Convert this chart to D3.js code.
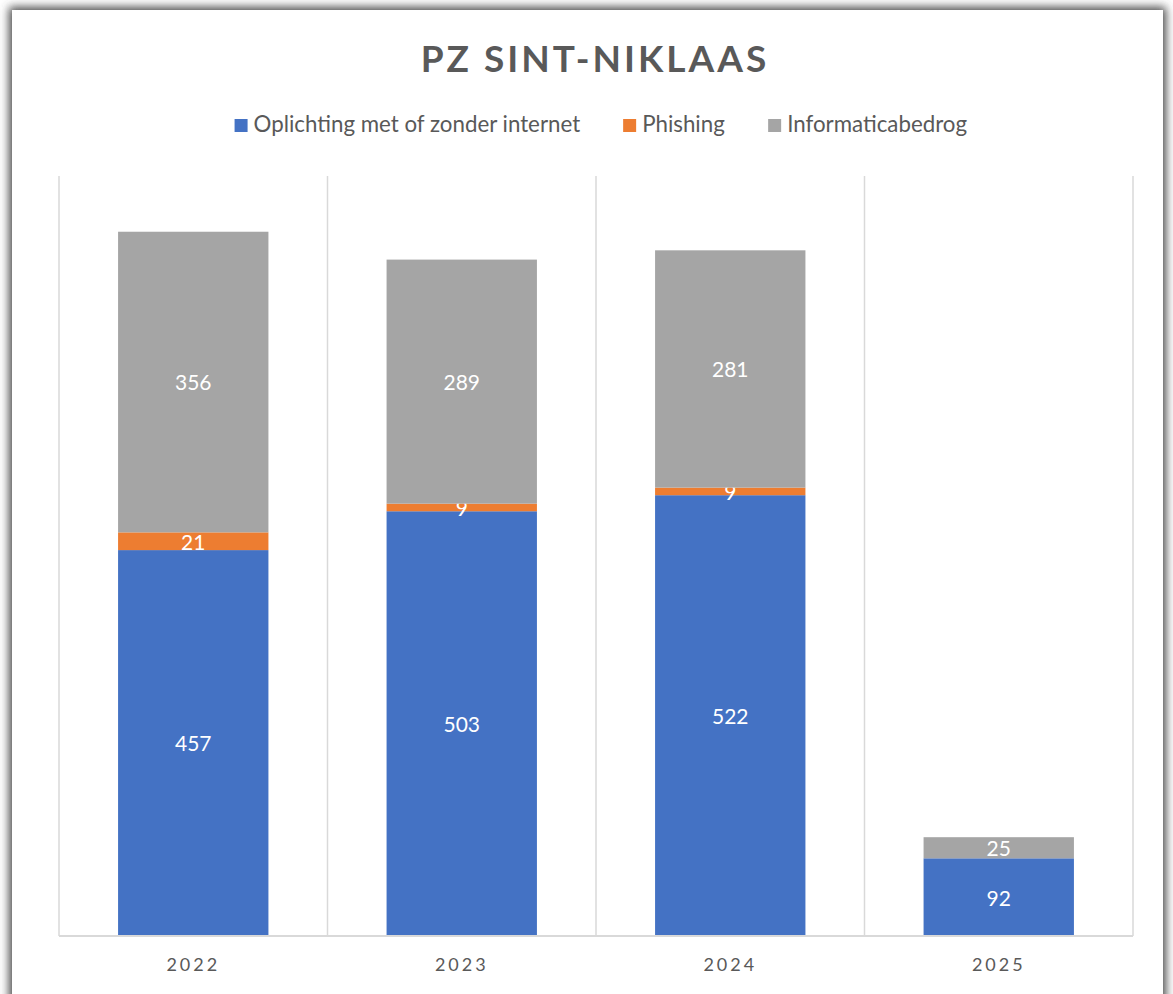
<!DOCTYPE html>
<html>
<head>
<meta charset="utf-8">
<script src="https://cdn.jsdelivr.net/npm/d3@7"></script>
<style>
  body { margin: 0; background: #fff; }
  svg { display: block; font-family: Lato, "Open Sans", sans-serif; }
</style>
</head>
<body>
<svg id="chart" width="1173" height="994"></svg>
<script>
const years = ["2022", "2023", "2024", "2025"];
const oplichting = [457, 503, 522, 92];
const phishing = [21, 9, 9, 0];
const informatica = [356, 289, 281, 25];
const seriesNames = ["Oplichting met of zonder internet", "Phishing", "Informaticabedrog"];
const colors = ["#4472C4", "#ED7D31", "#A5A5A5"];
const yMax = 900;

const plot = { left: 59, right: 1133, top: 176, bottom: 936 };

const svg = d3.select("#chart");

// frame with shadow
const defs = svg.append("defs");
defs.append("filter").attr("id", "shadow")
  .attr("x", "-5%").attr("y", "-5%").attr("width", "110%").attr("height", "110%")
  .append("feGaussianBlur").attr("stdDeviation", 5);
svg.append("rect")
  .attr("x", 9).attr("y", 7).attr("width", 1157).attr("height", 1100)
  .attr("fill", "#4a4a4a").attr("filter", "url(#shadow)");
svg.append("rect")
  .attr("x", 12).attr("y", 10).attr("width", 1151).attr("height", 1100)
  .attr("fill", "#fff");

// table built from the arrays
const table = years.map((y, i) => ({
  year: y,
  [seriesNames[0]]: oplichting[i],
  [seriesNames[1]]: phishing[i],
  [seriesNames[2]]: informatica[i]
}));
const stacked = d3.stack().keys(seriesNames)(table);

const x = d3.scaleBand()
  .domain(years)
  .range([plot.left, plot.right])
  .paddingInner(0.44)
  .paddingOuter(0.22);

const y = d3.scaleLinear()
  .domain([0, yMax])
  .range([plot.bottom, plot.top]);

// category separators
const half = (x.step() - x.bandwidth()) / 2;
const seps = years.map(d => x(d) - half).concat([x(years[years.length - 1]) + x.bandwidth() + half]);
svg.append("g").selectAll("line")
  .data(seps)
  .join("line")
  .attr("x1", d => d).attr("x2", d => d)
  .attr("y1", y(yMax)).attr("y2", y(0))
  .attr("stroke", "#D9D9D9").attr("stroke-width", 1.5);

// bars
const layer = svg.append("g").selectAll("g")
  .data(stacked)
  .join("g")
  .attr("fill", (d, i) => colors[i]);

layer.selectAll("rect")
  .data(d => d)
  .join("rect")
  .attr("x", d => x(d.data.year))
  .attr("width", x.bandwidth())
  .attr("y", d => y(d[1]))
  .attr("height", d => y(d[0]) - y(d[1]));

// data labels
layer.selectAll("text")
  .data(d => d.filter(v => v[1] - v[0] > 0))
  .join("text")
  .attr("x", d => x(d.data.year) + x.bandwidth() / 2)
  .attr("y", d => (y(d[0]) + y(d[1])) / 2)
  .attr("dy", "0.4em")
  .attr("text-anchor", "middle")
  .attr("fill", "#fff")
  .attr("font-size", 21)
  .text(d => d[1] - d[0]);

// x axis
const xAxis = svg.append("g")
  .attr("transform", `translate(0,${plot.bottom})`)
  .call(d3.axisBottom(x).tickSize(0).tickPadding(22));
xAxis.select(".domain")
  .attr("d", `M${plot.left},0H${plot.right}`)
  .attr("stroke", "#D9D9D9").attr("stroke-width", 2);
xAxis.selectAll("text")
  .attr("font-family", "Lato, sans-serif")
  .attr("font-size", 18)
  .attr("fill", "#595959")
  .attr("letter-spacing", "3px");

// title
svg.append("text")
  .attr("x", 595).attr("y", 72)
  .attr("text-anchor", "middle")
  .attr("font-size", 37)
  .attr("font-weight", "bold")
  .attr("fill", "#595959")
  .attr("letter-spacing", "3px")
  .text("PZ SINT-NIKLAAS");

// legend
const legend = svg.append("g");
const items = legend.selectAll("g")
  .data(seriesNames)
  .join("g");
items.append("rect")
  .attr("width", 13).attr("height", 13)
  .attr("y", -13)
  .attr("fill", (d, i) => colors[i]);
items.append("text")
  .attr("x", 19)
  .attr("font-size", 22.3)
  .attr("fill", "#595959")
  .text(d => d);
let cx = 0;
const gap = 43;
items.each(function () {
  const w = this.getBBox().width;
  d3.select(this).attr("transform", `translate(${cx},0)`);
  cx += w + gap;
});
const total = cx - gap;
legend.attr("transform", `translate(${(236 + 966) / 2 - total / 2},132)`);
</script>
</body>
</html>
